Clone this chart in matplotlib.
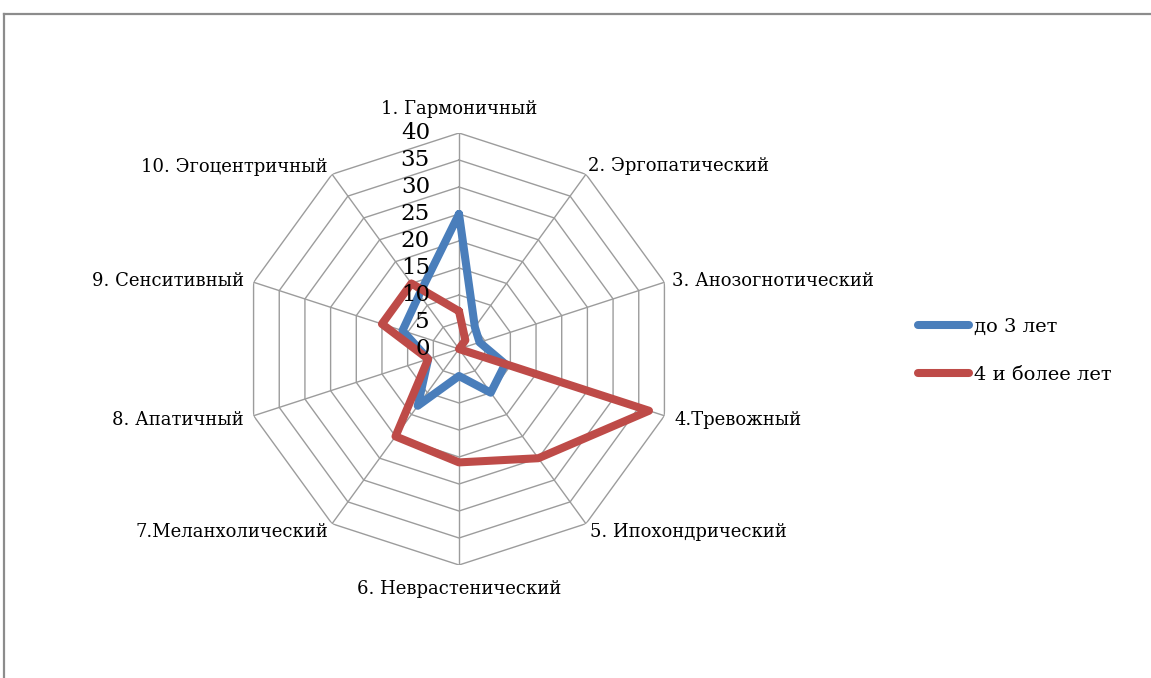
import numpy as np
import matplotlib
matplotlib.use("Agg")
import matplotlib.pyplot as plt
from matplotlib.lines import Line2D

categories = ["1. Гармоничный", "2. Эргопатический", "3. Анозогнотический",
              "4.Тревожный", "5. Ипохондрический", "6. Неврастенический",
              "7.Меланхолический", "8. Апатичный", "9. Сенситивный",
              "10. Эгоцентричный"]
up_to_3 = [25, 5, 4, 9, 10, 5, 13, 6, 11, 12.5]
four_plus = [7, 2, 0, 37, 25, 21, 20, 6, 15, 15]
series_names = ["до 3 лет", "4 и более лет"]
rings = [0, 5, 10, 15, 20, 25, 30, 35, 40]

plt.rcParams['font.family'] = ['DejaVu Serif']

W, H = 1151, 678
fig = plt.figure(figsize=(W / 100, H / 100), dpi=100)

cx, cy, rad = 459, 349, 216
ax = fig.add_axes([(cx - rad) / W, 1 - (cy + rad) / H, 2 * rad / W, 2 * rad / H],
                  projection='polar')
ax.set_theta_zero_location('N')
ax.set_theta_direction(-1)
ax.set_ylim(0, 40)
ax.grid(False)
ax.spines['polar'].set_visible(False)
ax.set_xticks([])
ax.set_yticks([])
ax.patch.set_alpha(0)

n = len(categories)
theta = np.arange(n) * 2 * np.pi / n
closed = np.append(theta, theta[0])

gcol = '#9c9c9c'
for r in rings[1:]:
    ax.plot(closed, [r] * (n + 1), color=gcol, lw=1.0, zorder=1)
for t in theta:
    ax.plot([t, t], [0, 40], color=gcol, lw=1.0, zorder=1)

colors = ['#4a7ebb', '#be4b48']
for vals, col, name in zip([up_to_3, four_plus], colors, series_names):
    ax.plot(closed, vals + vals[:1], color=col, lw=5.8, label=name,
            solid_joinstyle='round', solid_capstyle='round', zorder=3)

for r in rings:
    ax.annotate(str(r), xy=(0, r), xytext=(-29, 0), textcoords='offset pixels',
                ha='right', va='center', fontsize=16.5, zorder=5)

offsets = [(0, 24, 'center'), (2, 8, 'left'), (8, 1, 'left'), (10, -4, 'left'),
           (4, -8, 'left'), (0, -24, 'center'), (-4, -8, 'right'),
           (-10, -4, 'right'), (-10, 1, 'right'), (-5, 7, 'right')]
for t, lab, (dx, dy, ha) in zip(theta, categories, offsets):
    ax.annotate(lab, xy=(t, 40), xytext=(dx, dy), textcoords='offset pixels',
                ha=ha, va='center', fontsize=13, annotation_clip=False)

leg = fig.legend(loc='upper left', bbox_to_anchor=(900 / W, 1 - 300 / H),
                 frameon=False, fontsize=14, handlelength=2.65, handletextpad=0.25,
                 labelspacing=1.55)
for h in leg.get_lines():
    h.set_linewidth(5.8)
    h.set_solid_capstyle('round')

bc = '#8c8c8c'
fig.add_artist(Line2D([4 / W, 1], [1 - 13.5 / H] * 2, color=bc, lw=1.6,
                      transform=fig.transFigure))
fig.add_artist(Line2D([4 / W, 4 / W], [0, 1 - 13.5 / H], color=bc, lw=1.6,
                      transform=fig.transFigure))

fig.savefig('out.png', dpi=100)
